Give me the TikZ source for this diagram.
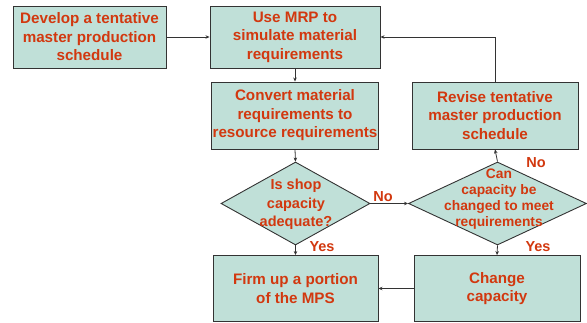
\documentclass[tikz,border=0pt]{standalone}
\usepackage{fontspec}
\setmainfont{Liberation Sans}
\usetikzlibrary{shapes.geometric,arrows.meta}
\definecolor{boxfill}{HTML}{C0E0D8}
\definecolor{txt}{HTML}{D2380F}
\definecolor{edge}{HTML}{333333}
\begin{document}
\begin{tikzpicture}[x=1pt,y=-1pt,
  box/.style={draw=edge,line width=0.9pt,fill=boxfill,rectangle,inner sep=1pt,align=center,
    text=txt,font=\bfseries\fontsize{15.2}{18.5}\selectfont},
  dia/.style={draw=edge,line width=0.9pt,fill=boxfill,diamond,inner sep=0pt},
  diatext/.style={align=center,text=txt,inner sep=0pt},
  lab/.style={text=txt,font=\bfseries\fontsize{14.5}{15}\selectfont,inner sep=0pt},
  conn/.style={draw=edge,line width=0.8pt,-{Stealth[length=4pt,width=3.5pt]}}]
\useasboundingbox (0,0) rectangle (587,323);
\node[box,minimum width=153pt,minimum height=62pt] (b1) at (89.5,37) {Develop a tentative\\master production\\schedule};
\node[box,minimum width=170pt,minimum height=62pt] (b2) at (295,37) {Use MRP to\\simulate material\\requirements};
\node[box,minimum width=166pt,minimum height=67pt] (b3) at (295,115.5) {Convert material\\requirements to\\resource requirements};
\node[box,minimum width=166pt,minimum height=67pt] (rv) at (495,115.5) {Revise tentative\\master production\\schedule};
\node[box,minimum width=165pt,minimum height=66pt] (fm) at (295.5,288.5) {Firm up a portion\\of the MPS};
\node[box,minimum width=166pt,minimum height=66pt] (ch) at (497,288.5) {Change\\capacity};
\node[dia,minimum width=149pt,minimum height=83pt] (d1) at (295.5,203.5) {};
\node[dia,minimum width=178pt,minimum height=83pt] (d2) at (497.5,203.5) {};
\node[diatext,font=\bfseries\fontsize{14.5}{18.5}\selectfont] (t1) at (296,204.5) {Is shop\\capacity\\adequate?};
\node[diatext,font=\bfseries\fontsize{13.8}{16}\selectfont] (t2) at (499,199.5) {Can\\capacity be\\changed to meet\\requirements};
\draw[conn] (b1.east) -- (b2.west);
\draw[conn] (b2.south) -- (b3.north);
\draw[conn] (b3.south) -- (d1.north);
\draw[conn] (d1.south) -- (fm.north);
\draw[conn] (d1.east) -- (d2.west);
\draw[conn] (d2.north) -- (rv.south);
\draw[conn] (d2.south) -- (ch.north);
\draw[conn] (ch.west) -- (fm.east);
\draw[conn] (rv.north) |- (b2.east);
\node[lab] (l1) at (322,247) {Yes};
\node[lab] (l2) at (383,197) {No};
\node[lab] (l3) at (536,163) {No};
\node[lab] (l4) at (538,247) {Yes};
\end{tikzpicture}
\end{document}
